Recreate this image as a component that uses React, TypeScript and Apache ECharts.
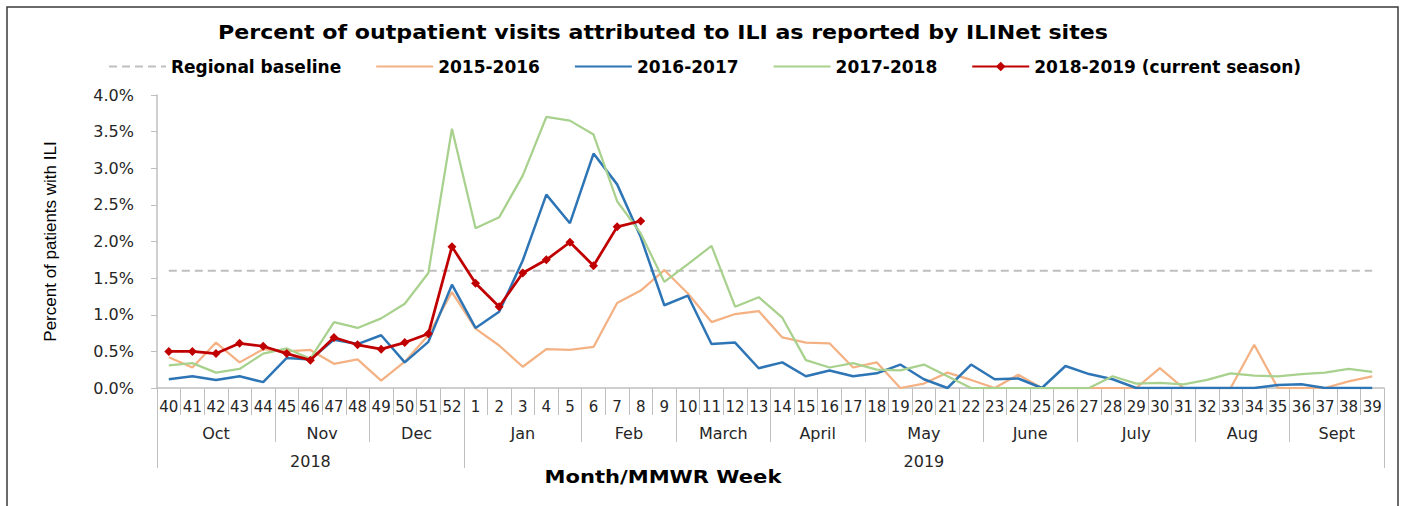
import React, { useEffect, useRef } from 'react';
import * as echarts from 'echarts';

const weeks = ['40','41','42','43','44','45','46','47','48','49','50','51','52','1','2','3','4','5','6','7','8','9','10','11','12','13','14','15','16','17','18','19','20','21','22','23','24','25','26','27','28','29','30','31','32','33','34','35','36','37','38','39'];
const months = ['Oct','Nov','Dec','Jan','Feb','March','April','May','June','July','Aug','Sept'];
const monthWeekCounts = [5,4,4,5,4,4,4,5,4,5,4,4];
const years = ['2018','2019'];
const yearWeekCounts = [13,39];
const yTicks = [0, 0.5, 1, 1.5, 2, 2.5, 3, 3.5, 4];

const baselineValue = 1.6;
const s1516 = [0.42,0.28,0.62,0.35,0.53,0.50,0.52,0.33,0.39,0.10,0.36,0.72,1.31,
  0.81,0.58,0.29,0.53,0.52,0.56,1.16,1.33,1.61,1.29,0.90,1.01,1.05,0.69,0.62,0.61,0.28,0.35,0.00,
  0.06,0.21,0.11,0.00,0.18,0.00,0.00,0.00,0.00,0.00,0.27,0.00,0.00,0.00,0.59,0.00,0.00,0.00,0.09,0.16];
const s1617 = [0.12,0.16,0.11,0.16,0.08,0.41,0.39,0.66,0.60,0.72,0.35,0.63,1.41,
  0.82,1.04,1.74,2.64,2.25,3.20,2.78,2.06,1.13,1.26,0.60,0.62,0.27,0.35,0.16,0.24,0.16,0.20,0.32,
  0.12,0.00,0.32,0.12,0.13,0.00,0.30,0.19,0.12,0.00,0.00,0.00,0.00,0.00,0.00,0.04,0.05,0.00,0.00,0.00];
const s1718 = [0.31,0.34,0.21,0.26,0.47,0.54,0.40,0.90,0.82,0.95,1.15,1.57,3.54,
  2.18,2.33,2.90,3.70,3.65,3.46,2.55,2.11,1.45,1.69,1.94,1.11,1.24,0.96,0.38,0.28,0.34,0.25,0.24,
  0.32,0.16,0.00,0.00,0.00,0.00,0.00,0.00,0.16,0.06,0.07,0.05,0.11,0.20,0.17,0.16,0.19,0.21,0.26,0.22];
const s1819 = [0.50,0.50,0.47,0.61,0.57,0.47,0.38,0.69,0.59,0.53,0.62,0.74,1.93,
  1.43,1.11,1.57,1.75,1.99,1.67,2.20,2.28];

function bounds(counts: number[]) {
  const b = [0];
  counts.forEach((c) => b.push(b[b.length - 1] + c));
  return b;
}
function centers(counts: number[]) {
  const b = bounds(counts);
  return counts.map((_, i) => (b[i] + b[i + 1]) / 2);
}

export default function App() {
  const ref = useRef<HTMLDivElement>(null);
  useEffect(() => {
    const chart = echarts.init(ref.current!, null, { renderer: 'svg' });
    const monthBounds = bounds(monthWeekCounts);
    const monthCenters = centers(monthWeekCounts);
    const yearBounds = bounds(yearWeekCounts);
    const yearCenters = centers(yearWeekCounts);
    const axisGray = '#bfbfbf';
    const labelFont = 'DejaVu Sans';
    const noSymbol = { opacity: 0 };
    const option: any = {
      animation: false,
      backgroundColor: '#ffffff',
      grid: { left: 157, right: 19, top: 95, bottom: 118 },
      legend: {
        top: 53,
        left: 103,
        itemWidth: 57,
        itemHeight: 12,
        itemGap: 34,
        textStyle: { fontFamily: labelFont, fontWeight: 'bold', fontSize: 17, color: '#000' },
        data: [
          { name: 'Regional baseline', itemStyle: noSymbol },
          { name: '2015-2016', itemStyle: noSymbol },
          { name: '2016-2017', itemStyle: noSymbol },
          { name: '2017-2018', itemStyle: noSymbol },
          { name: '2018-2019 (current season)' },
        ],
      },
      xAxis: [
        {
          type: 'category',
          data: weeks,
          boundaryGap: true,
          axisLine: { show: true, lineStyle: { color: axisGray, width: 1.5 } },
          axisTick: { show: true, interval: 0, length: 27, lineStyle: { color: axisGray } },
          axisLabel: { interval: 0, margin: 11, fontFamily: labelFont, fontSize: 15, color: '#262626' },
          splitLine: { show: false },
        },
        {
          type: 'value',
          min: 0,
          max: 52,
          position: 'bottom',
          axisLine: { show: false },
          splitLine: { show: false },
          axisTick: { show: true, customValues: monthBounds, length: 54, lineStyle: { color: axisGray } },
          axisLabel: {
            customValues: monthCenters,
            margin: 37,
            fontFamily: labelFont,
            fontSize: 16,
            color: '#262626',
            formatter: (v: number) => months[monthCenters.indexOf(v)] ?? '',
          },
        },
        {
          type: 'value',
          min: 0,
          max: 52,
          position: 'bottom',
          axisLine: { show: false },
          splitLine: { show: false },
          axisTick: { show: true, customValues: yearBounds, length: 80, lineStyle: { color: axisGray } },
          axisLabel: {
            customValues: yearCenters,
            margin: 65,
            fontFamily: labelFont,
            fontSize: 16,
            color: '#262626',
            formatter: (v: number) => years[yearCenters.indexOf(v)] ?? '',
          },
        },
      ],
      yAxis: {
        type: 'value',
        min: 0,
        max: 4,
        interval: 0.5,
        name: 'Percent of patients with ILI',
        nameLocation: 'middle',
        nameRotate: 90,
        nameGap: 98,
        nameTextStyle: { fontFamily: 'Liberation Sans Narrow, Liberation Sans, sans-serif', fontSize: 17, color: '#000' },
        axisLine: { show: true, lineStyle: { color: axisGray, width: 1.5 } },
        axisTick: { show: true, length: 6, lineStyle: { color: axisGray } },
        axisLabel: {
          margin: 23,
          fontFamily: labelFont,
          fontSize: 16,
          color: '#262626',
          formatter: (v: number) => (yTicks.includes(v) ? v.toFixed(1) + '%' : ''),
        },
        splitLine: { show: false },
      },
      graphic: [
        {
          type: 'rect',
          shape: { x: 7, y: 7, width: 1391, height: 530 },
          style: { fill: 'none', stroke: '#3a3a3a', lineWidth: 1.5 },
          silent: true,
        },
        {
          type: 'text',
          x: 663,
          y: 33,
          scaleX: 1.165,
          style: {
            text: 'Percent of outpatient visits attributed to ILI as reported by ILINet sites',
            fontFamily: labelFont,
            fontWeight: 'bold',
            fontSize: 19,
            fill: '#000',
            textAlign: 'center',
            textVerticalAlign: 'middle',
          },
        },
        {
          type: 'text',
          x: 663,
          y: 477,
          scaleX: 1.17,
          style: {
            text: 'Month/MMWR Week',
            fontFamily: labelFont,
            fontWeight: 'bold',
            fontSize: 18,
            fill: '#000',
            textAlign: 'center',
            textVerticalAlign: 'middle',
          },
        },
      ],
      series: [
        {
          name: 'Regional baseline',
          type: 'line',
          data: weeks.map(() => baselineValue),
          symbol: 'none',
          lineStyle: { color: '#bfbfbf', width: 2, type: [8, 5] },
          itemStyle: { color: '#bfbfbf' },
          z: 1,
        },
        {
          name: '2015-2016',
          type: 'line',
          data: s1516,
          symbol: 'none',
          lineStyle: { color: '#f4b183', width: 2.25 },
          itemStyle: { color: '#f4b183' },
          z: 2,
        },
        {
          name: '2016-2017',
          type: 'line',
          data: s1617,
          symbol: 'none',
          lineStyle: { color: '#2e75b6', width: 2.5 },
          itemStyle: { color: '#2e75b6' },
          z: 3,
        },
        {
          name: '2017-2018',
          type: 'line',
          data: s1718,
          symbol: 'none',
          lineStyle: { color: '#a9d18e', width: 2.25 },
          itemStyle: { color: '#a9d18e' },
          z: 4,
        },
        {
          name: '2018-2019 (current season)',
          type: 'line',
          data: s1819,
          symbol: 'diamond',
          symbolSize: [9, 9],
          showSymbol: true,
          lineStyle: { color: '#c00000', width: 2.75 },
          itemStyle: { color: '#c00000' },
          z: 5,
        },
      ],
    };
    chart.setOption(option);
    return () => chart.dispose();
  }, []);
  return (
    <div
      ref={ref}
      style={{ position: 'fixed', left: 0, top: 0, width: 1403, height: 506, background: '#fff' }}
    />
  );
}
